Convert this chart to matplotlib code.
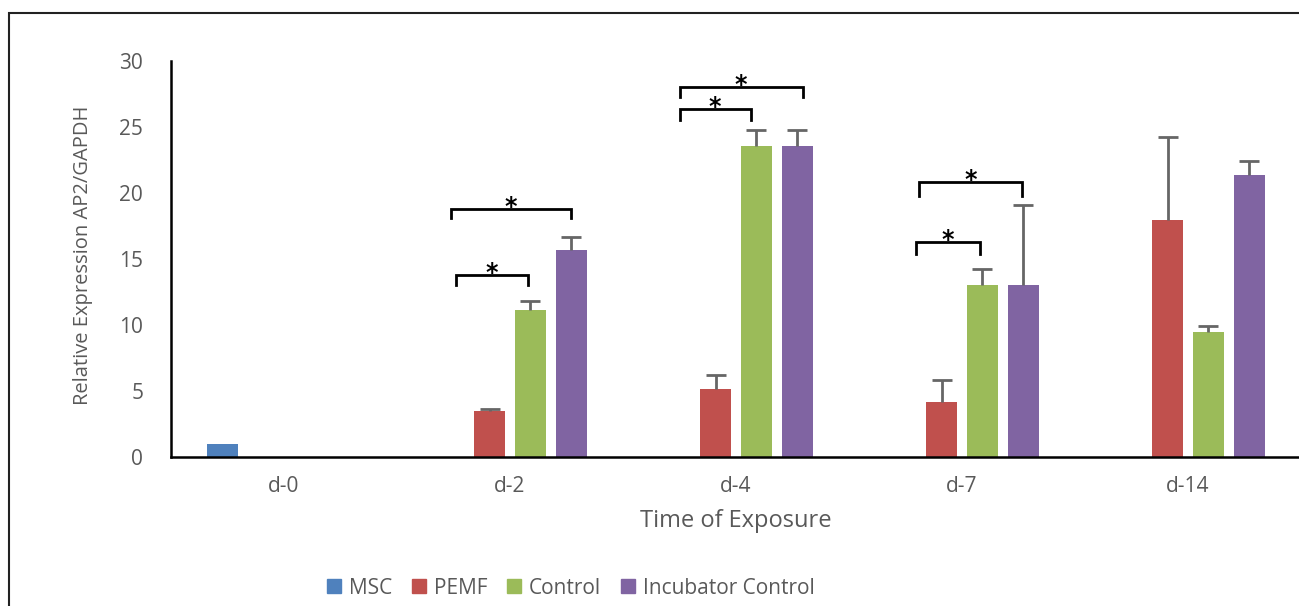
import matplotlib
matplotlib.use('Agg')
import matplotlib.pyplot as plt
import numpy as np
from matplotlib.patches import Rectangle
from matplotlib.lines import Line2D

# data
days = ['d-0', 'd-2', 'd-4', 'd-7', 'd-14']
groups = ['MSC', 'PEMF', 'Control', 'Incubator Control']
msc = [1.0, 0, 0, 0, 0]
msc_err = [0, 0, 0, 0, 0]
pemf = [0, 3.5, 5.15, 4.15, 17.95]
pemf_err = [0, 0.1, 1.05, 1.7, 6.3]
control = [0, 11.15, 23.55, 13.05, 9.5]
control_err = [0, 0.7, 1.25, 1.2, 0.4]
incubator = [0, 15.7, 23.55, 13.05, 21.35]
incubator_err = [0, 0.95, 1.25, 6.05, 1.05]

# significance brackets: (day index, left offset, right offset, y of bar, leg length)
brackets = [
    (1, -0.24, 0.08, 13.8, 0.8),
    (1, -0.26, 0.27, 18.8, 0.7),
    (2, -0.25, 0.065, 26.35, 0.8),
    (2, -0.25, 0.295, 28.05, 0.75),
    (3, -0.205, 0.078, 16.3, 0.95),
    (3, -0.19, 0.265, 20.85, 1.1),
]

colors = ['#4F81BD', '#C0504D', '#9BBB59', '#8064A2']
series = [(msc, msc_err), (pemf, pemf_err), (control, control_err), (incubator, incubator_err)]

plt.rcParams['font.family'] = ['Open Sans', 'DejaVu Sans']

fig = plt.figure(figsize=(12.99, 6.06), dpi=100)
ax = fig.add_axes([171 / 1299, 1 - 457 / 606, 1130 / 1299, 396 / 606])

x = np.arange(len(days))
step = 0.181
width = 0.137
for i, (vals, errs) in enumerate(series):
    pos = x + (i - 1.5) * step
    vals = np.array(vals)
    errs = np.array(errs)
    ax.bar(pos, vals, width, color=colors[i], label=groups[i], zorder=2)
    mask = errs > 0
    if mask.any():
        _, caps, _ = ax.errorbar(pos[mask], vals[mask],
                                 yerr=[np.zeros(mask.sum()), errs[mask]],
                                 fmt='none', ecolor='#666666', elinewidth=2,
                                 capsize=7, capthick=2, zorder=3)
        # only the upper cap is wanted
        for cap in caps:
            if np.allclose(cap.get_ydata(), vals[mask]):
                cap.set_visible(False)

for d, lo, hi, y, leg in brackets:
    ax.plot([d + lo, d + lo, d + hi, d + hi], [y - leg, y, y, y - leg],
            color='black', lw=2, zorder=4, solid_joinstyle='miter')
    ax.text(d + (lo + hi) / 2, y - 0.4, '*', ha='center', va='baseline',
            fontsize=17, fontweight='bold', color='black', family='DejaVu Sans')

ax.set_xlim(-0.5, 4.5)
ax.set_ylim(0, 30)
ax.set_yticks([0, 5, 10, 15, 20, 25, 30])
ax.set_xticks(x)
ax.set_xticklabels(days)
ax.tick_params(axis='both', length=0, labelsize=15, labelcolor='#595959')
ax.tick_params(axis='y', pad=20)
ax.tick_params(axis='x', pad=14)
for s in ['top', 'right']:
    ax.spines[s].set_visible(False)
ax.spines['left'].set_linewidth(1.8)
ax.spines['bottom'].set_linewidth(1.8)

ax.set_xlabel('Time of Exposure', fontsize=17, color='#595959', labelpad=8)
fig.text(83 / 1299, 1 - 255 / 606, 'Relative Expression AP2/GAPDH', rotation=90,
         ha='center', va='center', fontsize=14.5, color='#595959')

handles = [Line2D([], [], marker='s', linestyle='none', markersize=10,
                  color=c, label=g) for c, g in zip(colors, groups)]
fig.legend(handles=handles, loc='center', bbox_to_anchor=(570 / 1299, 1 - 588 / 606),
           ncol=4, frameon=False, fontsize=15, handletextpad=0.3, columnspacing=0.9,
           handlelength=0.8, labelcolor='#595959')

fig.patches.append(Rectangle((9 / 1299, -0.1), 1.2, 1 - 13 / 606 + 0.1,
                             transform=fig.transFigure, fill=False,
                             edgecolor='#222222', lw=1.5))

fig.savefig('out.png', dpi=100)
